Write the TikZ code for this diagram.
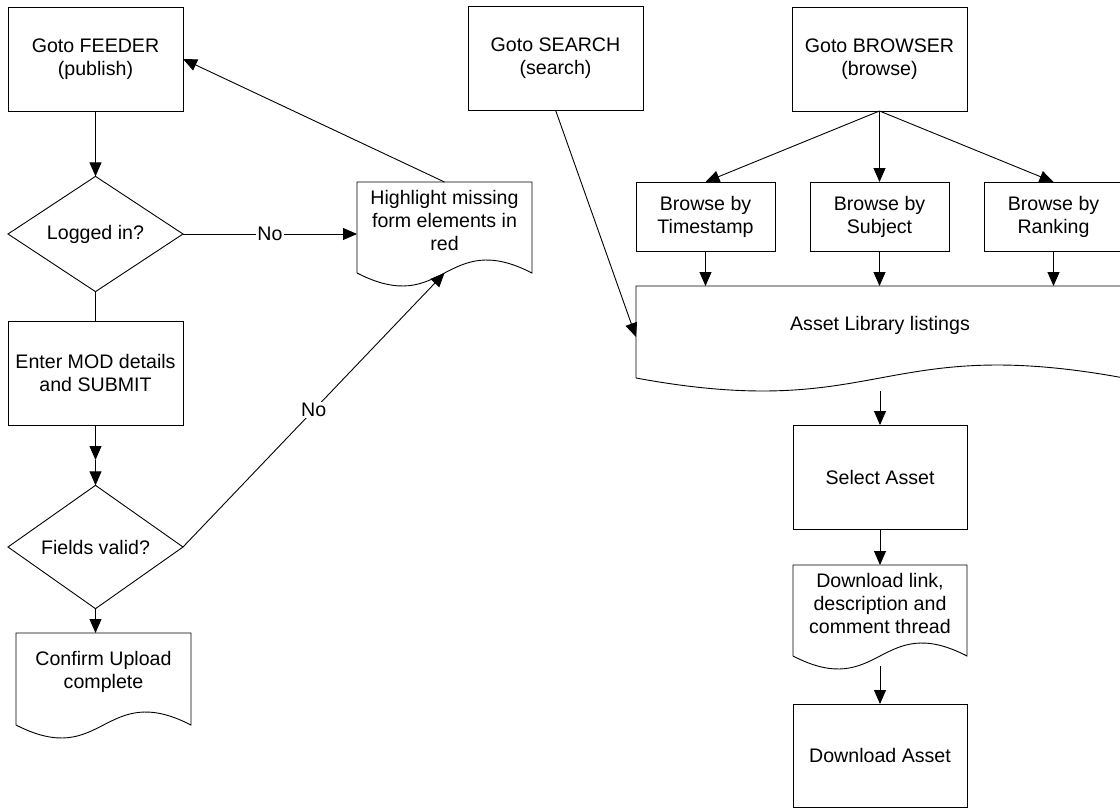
\documentclass[tikz,border=0pt]{standalone}
\usepackage{fontspec}
\setmainfont{Liberation Sans}
\usetikzlibrary{arrows.meta,shapes.geometric}

% outline of a flowchart "document" shape around a frame node
\newcommand\docoutline[1]{%
  \draw[line] (#1.south west) -- (#1.north west) -- (#1.north east) -- (#1.south east)
    .. controls ([yshift=45pt]#1.south) and ([yshift=-45pt]#1.south) .. (#1.south west);}

\begin{document}
\begin{tikzpicture}[x=1pt,y=-1pt,
  every node/.style={font=\fontsize{19.6}{23}\selectfont, align=center},
  line/.style={draw=black, line width=0.9pt},
  proc/.style={line, rectangle, inner sep=2pt, outer sep=0pt},
  decision/.style={line, diamond, inner sep=0pt, outer sep=0pt,
                   minimum width=175pt, minimum height=104pt},
  docframe/.style={rectangle, draw=none, inner sep=0pt, outer sep=0pt},
  arr/.style={line, -{Triangle[length=14pt,width=12pt]}},
  lbl/.style={fill=white, inner sep=1pt}]

\useasboundingbox (0,0) rectangle (1120,809);
\clip (0,0) rectangle (1120,809);

% ---------- publish branch ----------
\node[proc, minimum width=175pt, minimum height=104pt] (feeder) at (95.5,59) {Goto FEEDER\\(publish)};
\node[decision] (logged) at (95.5,234) {Logged in?};
\node[proc, minimum width=175pt, minimum height=104pt] (mod) at (95.5,373) {Enter MOD details\\and SUBMIT};
\node[decision] (valid) at (95.5,547) {Fields valid?};

\node[docframe, minimum width=175pt, minimum height=92pt] (confirm) at (103.5,679) {};
\docoutline{confirm}
\node (confirm-t) at ([yshift=7pt]confirm.center) {Confirm Upload\\complete};

\node[docframe, minimum width=175pt, minimum height=91pt] (hl) at (444.5,227.5) {};
\docoutline{hl}
\node (hl-t) at ([yshift=7pt]hl.center) {Highlight missing\\form elements in\\red};

\coordinate (mod-mid) at ([yshift=-35pt]mod.south);

\draw[arr] (feeder.south) -- (logged.north);
\draw[arr] (logged.east) -- node[lbl, midway] (no1) {No} (logged.east -| hl.west);
\draw[line] (logged.south) -- (mod.north);
\draw[arr] (mod.south) -- (mod-mid);
\draw[arr] (mod-mid) -- (valid.north);
\draw[arr] (valid.south) -- (valid.south |- confirm.north);
\draw[arr] (valid.east) -- node[lbl, midway] (no2) {No} (hl.south);
\draw[arr] (hl.north) -- (feeder.east);

% ---------- search / browse branch ----------
\node[proc, minimum width=175pt, minimum height=104pt] (search) at (555.5,58) {Goto SEARCH\\(search)};
\node[proc, minimum width=175pt, minimum height=104pt] (browser) at (879.5,59) {Goto BROWSER\\(browse)};

\node[proc, minimum width=139pt, minimum height=69pt] (ts) at (705.5,216.5) {Browse by\\Timestamp};
\node[proc, minimum width=139pt, minimum height=69pt] (subj) at (879.5,216.5) {Browse by\\Subject};
\node[proc, minimum width=139pt, minimum height=69pt] (rank) at (1053.5,216.5) {Browse by\\Ranking};

\node[docframe, minimum width=488pt, minimum height=92pt] (asset) at (880,332) {};
\docoutline{asset}
\node (asset-t) at ([yshift=7pt]asset.center) {Asset Library listings};

\node[proc, minimum width=174pt, minimum height=104pt] (select) at (880,477) {Select Asset};

\node[docframe, minimum width=174pt, minimum height=91pt] (dl) at (880,610.5) {};
\docoutline{dl}
\node (dl-t) at ([yshift=7pt]dl.center) {Download link,\\description and\\comment thread};

\node[proc, minimum width=174pt, minimum height=103pt] (dasset) at (880,755.5) {Download Asset};

\coordinate (asset-in) at ([yshift=-5pt]asset.west);
\coordinate (asset-out) at ([yshift=-13pt]asset.south);
\coordinate (dl-out) at ([yshift=-10pt]dl.south);

\draw[arr] (search.south) -- (asset-in);
\draw[arr] (browser.south) -- (ts.north);
\draw[arr] (browser.south) -- (subj.north);
\draw[arr] (browser.south) -- (rank.north);
\draw[arr] (ts.south) -- (ts.south |- asset.north);
\draw[arr] (subj.south) -- (subj.south |- asset.north);
\draw[arr] (rank.south) -- (rank.south |- asset.north);
\draw[arr] (asset-out) -- (select.north);
\draw[arr] (select.south) -- (dl.north);
\draw[arr] (dl-out) -- (dasset.north);

\end{tikzpicture}
\end{document}
